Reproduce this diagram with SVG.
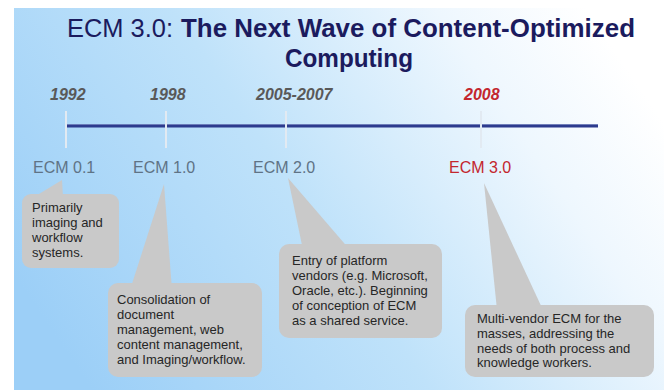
<svg xmlns="http://www.w3.org/2000/svg" width="664" height="390" viewBox="0 0 664 390">
  <defs>
    <linearGradient id="bg" x1="0" y1="0.7" x2="1" y2="0.3">
      <stop offset="0" stop-color="#9ccff7"/>
      <stop offset="0.45" stop-color="#bfe2fa"/>
      <stop offset="0.8" stop-color="#eef7fe"/>
      <stop offset="1" stop-color="#ffffff"/>
    </linearGradient>
    <style>
      .title { font-family: "Liberation Sans", Arial, sans-serif; font-size: 25px; fill: #1b1b5e; }
      .b { font-weight: bold; }
      .year { font-family: "Liberation Sans", Arial, sans-serif; font-size: 16px; font-weight: bold; font-style: italic; fill: #595959; }
      .ecm { font-family: "Liberation Sans", Arial, sans-serif; font-size: 16px; fill: #5f7386; }
      .red { fill: #c3262e; }
      .box { fill: #c9c9c9; }
      .txt { font-family: "Liberation Sans", Arial, sans-serif; font-size: 13px; fill: #262626; }
      .tick { stroke: #e2eaf2; stroke-width: 2; }
    </style>
  </defs>

  <rect x="0" y="0" width="664" height="390" fill="#ffffff"/>
  <rect x="14" y="8" width="650" height="382" fill="url(#bg)"/>

  <g id="title">
    <text class="title" x="67" y="37" textLength="106" lengthAdjust="spacingAndGlyphs">ECM 3.0:</text>
    <text class="title b" x="181" y="37" textLength="454" lengthAdjust="spacingAndGlyphs">The Next Wave of Content-Optimized</text>
    <text class="title b" x="285" y="67" textLength="128" lengthAdjust="spacingAndGlyphs">Computing</text>
  </g>

  <g id="timeline">
    <line x1="67" y1="126" x2="598" y2="126" stroke="#2d3b8e" stroke-width="3"/>
    <line x1="67" y1="124.5" x2="598" y2="124.5" stroke="#6a78b8" stroke-width="0.8"/>
    <line class="tick" x1="66" y1="111" x2="66" y2="148"/>
    <line class="tick" x1="166" y1="111" x2="166" y2="148"/>
    <line class="tick" x1="286" y1="111" x2="286" y2="148"/>
    <line class="tick" x1="481" y1="111" x2="481" y2="148"/>
  </g>

  <g id="years">
    <text class="year" x="50" y="100">1992</text>
    <text class="year" x="150" y="100">1998</text>
    <text class="year" x="256" y="100">2005-2007</text>
    <text class="year red" x="464" y="100">2008</text>
  </g>

  <g id="ecm-labels">
    <text class="ecm" x="33" y="173">ECM 0.1</text>
    <text class="ecm" x="133" y="173">ECM 1.0</text>
    <text class="ecm" x="253" y="173">ECM 2.0</text>
    <text class="ecm red" x="449" y="173">ECM 3.0</text>
  </g>

  <g id="connectors" class="box">
    <polygon points="62,180 34,197 63,197"/>
    <polygon points="164,184 130,290 172,290"/>
    <polygon points="288,178 303,250 350,250"/>
    <polygon points="484,183 497,310 543,310"/>
  </g>

  <g id="callout-ecm01">
    <rect class="box" x="22" y="194" width="97" height="74" rx="9"/>
    <text class="txt" x="32" y="212">Primarily</text>
    <text class="txt" x="32" y="227">imaging and</text>
    <text class="txt" x="32" y="242">workflow</text>
    <text class="txt" x="32" y="257">systems.</text>
  </g>

  <g id="callout-ecm10">
    <rect class="box" x="108" y="283" width="154" height="94" rx="10"/>
    <text class="txt" x="117" y="304">Consolidation of</text>
    <text class="txt" x="117" y="319">document</text>
    <text class="txt" x="117" y="334">management, web</text>
    <text class="txt" x="117" y="349">content management,</text>
    <text class="txt" x="117" y="364">and Imaging/workflow.</text>
  </g>

  <g id="callout-ecm20">
    <rect class="box" x="279" y="244" width="163" height="94" rx="10"/>
    <text class="txt" x="292" y="265">Entry of platform</text>
    <text class="txt" x="292" y="280">vendors (e.g. Microsoft,</text>
    <text class="txt" x="292" y="295">Oracle, etc.). Beginning</text>
    <text class="txt" x="292" y="310">of conception of ECM</text>
    <text class="txt" x="292" y="325">as a shared service.</text>
  </g>

  <g id="callout-ecm30">
    <rect class="box" x="465" y="305" width="189" height="72" rx="10"/>
    <text class="txt" x="477" y="323">Multi-vendor ECM for the</text>
    <text class="txt" x="477" y="338">masses, addressing the</text>
    <text class="txt" x="477" y="353">needs of both process and</text>
    <text class="txt" x="477" y="367">knowledge workers.</text>
  </g>
</svg>
